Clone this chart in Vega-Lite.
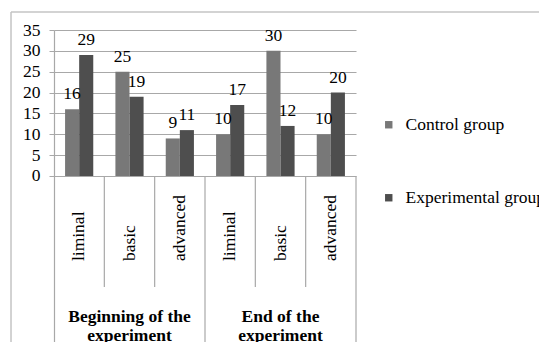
{
  "$schema": "https://vega.github.io/schema/vega-lite/v6.json",
  "width": 302,
  "height": 312,
  "autosize": {"type": "none"},
  "padding": {"left": 54, "top": 30, "right": 183, "bottom": 0},
  "background": "white",
  "config": {"view": {"stroke": null}, "font": "'Liberation Serif', 'Times New Roman', serif"},
  "datasets": {
    "bars": [
      {"pos": 1, "group": "Control group", "value": 16},
      {"pos": 1, "group": "Experimental group", "value": 29},
      {"pos": 2, "group": "Control group", "value": 25},
      {"pos": 2, "group": "Experimental group", "value": 19},
      {"pos": 3, "group": "Control group", "value": 9},
      {"pos": 3, "group": "Experimental group", "value": 11},
      {"pos": 4, "group": "Control group", "value": 10},
      {"pos": 4, "group": "Experimental group", "value": 17},
      {"pos": 5, "group": "Control group", "value": 30},
      {"pos": 5, "group": "Experimental group", "value": 12},
      {"pos": 6, "group": "Control group", "value": 10},
      {"pos": 6, "group": "Experimental group", "value": 20}
    ],
    "levels": [
      {"px": 0.5, "y": -20.4, "label": "liminal"},
      {"px": 1.5, "y": -20.4, "label": "basic"},
      {"px": 2.5, "y": -20.4, "label": "advanced"},
      {"px": 3.5, "y": -20.4, "label": "liminal"},
      {"px": 4.5, "y": -20.4, "label": "basic"},
      {"px": 5.5, "y": -20.4, "label": "advanced"}
    ],
    "periods": [
      {"px": 1.5, "y": -35.0, "label": "Beginning of the\nexperiment"},
      {"px": 4.5, "y": -35.0, "label": "End of the\nexperiment"}
    ],
    "dividers": [
      {"px": 1, "y": 0, "y2": -26.6},
      {"px": 2, "y": 0, "y2": -26.6},
      {"px": 3, "y": 0, "y2": -40},
      {"px": 4, "y": 0, "y2": -26.6},
      {"px": 5, "y": 0, "y2": -26.6},
      {"px": 6, "y": 0, "y2": -40}
    ],
    "border": [
      {"px": -0.854, "px2": -0.854, "y": 39.3, "y2": -40},
      {"px": -0.854, "px2": 9.8, "y": 39.3, "y2": 39.3}
    ]
  },
  "resolve": {"scale": {"x": "independent"}},
  "layer": [
    {
      "data": {"name": "border"},
      "mark": {"type": "rule", "color": "#c4c4c4", "strokeWidth": 1.5},
      "encoding": {
        "x": {"field": "px", "type": "quantitative", "scale": {"domain": [0, 6]}, "axis": null},
        "x2": {"field": "px2"},
        "y": {"field": "y", "type": "quantitative", "scale": {"domain": [-39.8, 35], "nice": false, "zero": false},
          "axis": {"values": [0, 5, 10, 15, 20, 25, 30, 35], "title": null, "grid": true, "gridColor": "#a8a8a8", "gridWidth": 1.2,
            "domainColor": "#a8a8a8", "domainWidth": 1.2, "tickColor": "#a8a8a8", "tickSize": 5, "labelFont": "'Liberation Serif', 'Times New Roman', serif",
            "labelFontSize": 17.5, "labelColor": "black", "labelPadding": 9}},
        "y2": {"field": "y2"}
      }
    },
    {
      "data": {"name": "bars"},
      "layer": [
        {
          "mark": {"type": "bar"},
          "encoding": {
            "x": {"field": "pos", "type": "ordinal", "scale": {"paddingInner": 0.44, "paddingOuter": 0.22}, "axis": null},
            "xOffset": {"field": "group", "type": "nominal"},
            "y": {"field": "value", "type": "quantitative"},
            "color": {"field": "group", "type": "nominal",
              "scale": {"domain": ["Control group", "Experimental group"], "range": ["#787878", "#4e4e4e"]},
              "legend": {"title": null, "orient": "none", "legendX": 326, "legendY": 86, "symbolType": "square",
                "symbolSize": 55, "symbolStrokeWidth": 0, "labelFont": "'Liberation Serif', 'Times New Roman', serif", "labelFontSize": 17.5,
                "labelColor": "black", "rowPadding": 54, "labelOffset": 8, "labelLimit": 300}}
          }
        },
        {
          "mark": {"type": "text", "dy": -10, "baseline": "alphabetic", "fontSize": 17.5, "color": "black"},
          "encoding": {
            "x": {"field": "pos", "type": "ordinal", "axis": null},
            "xOffset": {"field": "group", "type": "nominal"},
            "y": {"field": "value", "type": "quantitative"},
            "text": {"field": "value", "type": "quantitative"}
          }
        }
      ]
    },
    {
      "data": {"name": "dividers"},
      "mark": {"type": "rule", "color": "#a8a8a8", "strokeWidth": 1.2},
      "encoding": {
        "x": {"field": "px", "type": "quantitative", "scale": {"domain": [0, 6]}, "axis": null},
        "y": {"field": "y", "type": "quantitative"},
        "y2": {"field": "y2"}
      }
    },
    {
      "data": {"name": "levels"},
      "mark": {"type": "text", "angle": 270, "align": "left", "baseline": "middle", "fontSize": 17.5, "color": "black"},
      "encoding": {
        "x": {"field": "px", "type": "quantitative", "scale": {"domain": [0, 6]}, "axis": null},
        "y": {"field": "y", "type": "quantitative"},
        "text": {"field": "label", "type": "nominal"}
      }
    },
    {
      "data": {"name": "periods"},
      "mark": {"type": "text", "align": "center", "baseline": "alphabetic", "fontSize": 17.5, "fontWeight": "bold", "color": "black", "lineBreak": "\n", "lineHeight": 19},
      "encoding": {
        "x": {"field": "px", "type": "quantitative", "scale": {"domain": [0, 6]}, "axis": null},
        "y": {"field": "y", "type": "quantitative"},
        "text": {"field": "label", "type": "nominal"}
      }
    }
  ]
}
